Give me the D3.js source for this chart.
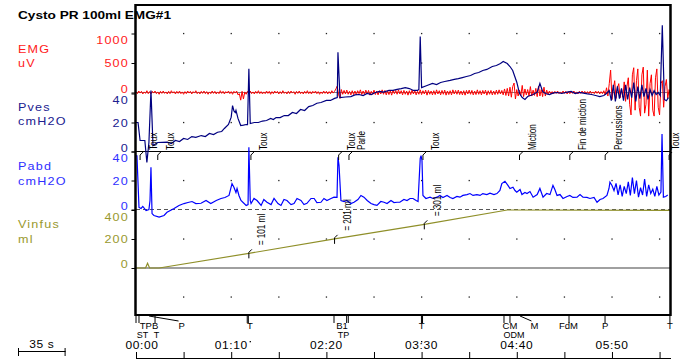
<!DOCTYPE html>
<html>
<head>
<meta charset="utf-8">
<script src="https://cdn.jsdelivr.net/npm/d3@7"></script>
<style>
  body { margin: 0; background: #fff; }
  svg { display: block; font-family: "Liberation Sans", Arial, sans-serif; }
</style>
</head>
<body>
<svg id="chart" width="681" height="363"></svg>
<script>
// ---- data (time in seconds) ----
const emgStep = 1; // seconds between EMG samples
const emgUv = [
  15,-20,25,-10,20,-25,10,-15,30,-20,15,-25,20,-10,25,-20,10,-30,20,-15,
  25,-15,10,-25,20,-20,30,-10,15,-25,20,-15,25,-20,10,-30,15,-20,25,-10,
  20,-25,15,-10,30,-20,10,-25,20,-15,25,-20,15,-30,10,-20,25,-15,20,-25,
  10,-20,30,-15,20,-25,15,-10,25,-20,15,-30,20,-10,25,-40,-20,-130,20,-110,
  10,-30,20,-15,25,-20,10,-25,20,-15,30,-20,15,-25,10,-20,25,-15,20,-30,
  15,-20,25,-10,20,-25,15,-20,30,-15,10,-25,20,-20,25,-10,15,-30,20,-15,
  25,-20,10,-25,20,-15,30,-20,15,-25,20,-10,25,-20,15,-30,10,-20,25,-15,
  20,-25,15,-20,30,-10,20,60,110,-40,-100,50,-30,35,-25,40,-30,20,-40,30,
  -35,25,-40,30,-20,45,-35,25,-30,40,-25,35,-45,20,-30,40,-35,25,-40,30,
  -25,45,-30,35,-40,25,-35,30,-45,40,-20,35,-30,45,-25,30,-40,35,-30,25,
  -45,30,-35,40,-25,35,-40,20,-30,45,-35,30,-25,40,-45,35,-30,25,-40,30,
  -35,45,-25,30,-40,35,-30,40,-45,25,-35,30,-40,45,-25,35,-30,40,-35,25,
  -40,30,-45,35,-25,40,-30,35,-40,25,-35,45,-30,30,-40,35,-25,40,-45,30,
  -30,35,-40,25,-35,40,-30,45,-25,35,-40,60,-50,70,-60,90,-80,100,160,-110,
  50,-60,40,-50,120,-70,60,-40,50,-60,100,-60,40,-50,70,-70,110,-60,50,-70,
  90,-60,40,-30,25,-20,15,-25,20,-15,25,-20,10,-20,25,-15,20,-25,15,-20,
  20,-15,25,-20,10,-25,20,-15,25,-10,20,-25,15,-20,25,-15,10,-20,25,-15,
  20,-25,15,-20,30,-40,80,-60,150,380,-120,60,200,-100,80,150,-90,60,-80,180,
  -150,100,250,-200,-380,300,420,-300,200,400,-250,-400,300,430,-350,-200,380,-400,150,300,
  -300,-400,250,400,-250,-380,150,200,-250,100,220,-100,50,-60
];

const pvesPts = [
  [0,20],[1.5,20],[3,7.6],[6.5,7.6],[8,-7.6],[9.5,6.2],[11,42],[12.5,4.1],[16,6.2],[23,6.4],
  [26,5.5],[29,7.6],[32,6.9],[35,9],[38,8.3],[41,10.3],[44,9.7],[48,11],[51,10.3],[54,12.4],
  [57,11.7],[60,13.3],[63,13.8],[65,15.9],[68,18.6],[70,23.7],[71,31.7],[72,28],[73,26.9],[73.5,28.3],
  [75,22.8],[77,17.9],[79,18.2],[81,18.6],[82,18.6],[83,57],[84,19.3],[87,20],[90,20],[93,21],
  [96,21.4],[99,22.8],[101,22],[103,23.4],[106,23.4],[109,24.8],[112,24.8],[115,26.9],[118,26.2],[121,29],
  [124,28.3],[127,31],[130,31.7],[133,33.3],[136,33.8],[140,35.2],[143,35.2],[146,36.6],[148,37.2],[148.5,68.5],
  [150,37.2],[154,37.6],[158,37.9],[161,39],[164,39.3],[167,38.6],[170,40],[173,39.3],[176,40.7],[179,41.4],
  [182,40.9],[186,42.1],[189,42.1],[192,42.8],[195,43.4],[198,44.1],[201,43.4],[204,42.1],[207,42.1],[208,42.8],
  [209,79.3],[210,44.1],[214,45.5],[218,46.9],[221,46.2],[224,47.6],[227,48.3],[231,49],[234,49.7],[237,50.3],
  [240,51],[243,51.7],[246,52.4],[249,53.8],[252,54.5],[255,55.9],[258,56.6],[262,58.6],[265,59.3],[268,60.7],
  [270,62.1],[273,60.7],[275,58.6],[277,55.9],[280,47.8],[282,40],[284,37.2],[286,35.9],[288,37.9],[290,38.6],
  [292,39.3],[295,40.9],[297,46.9],[299,41.4],[301,40],[304,39.3],[307,40.4],[310,40.7],[313,40],[317,40.9],
  [320,41.4],[323,40],[326,40.7],[329,40.2],[332,39.7],[335,39.3],[338,38.6],[341,37.9],[344,38.6],[346,40],
  [348,42],[349.5,35],[351,46],[352.5,34.5],[354,45],[355.5,36.5],[357,43.5],[358.5,35],[360,46],[361.5,35.9],
  [363,44],[364.5,37.2],[366,47.6],[367.5,34.5],[369,44.8],[370.5,36.5],[372,46],[373.5,37.9],[375,43.5],[376.5,35.9],
  [378,42.8],[379.5,38.6],[381,42],[382.5,39.3],[384,40.7],[385.5,38.6],[387,87],[388.5,35.9],[390,35],[391.5,37.2]
];

const pabdPts = [
  [0,37],[0.7,37],[2.2,1.4],[3.7,0.7],[5,2.1],[7.4,-0.7],[9.5,0],[10.3,6.2],[11,29.2],[11.8,-2.8],
  [13.2,-4.1],[17,-5.3],[20.6,-4.1],[22.8,-1.9],[28,0.7],[31.6,2.8],[35.3,4.1],[38.2,4.8],[41.2,5.5],[44,4.1],
  [47.8,4.3],[51.5,6.2],[55,4.1],[59,6.2],[62.5,7.6],[65.4,8.3],[68.4,9.7],[70.6,17.9],[72,15.4],[73.5,11.7],
  [74.3,14.5],[75.7,9.7],[77.2,6.2],[81,2.8],[82.4,3.4],[83,43],[84,6.2],[84.6,4.1],[86.8,7.6],[89,6.2],
  [92,2.8],[94,6.9],[96.3,5],[99.3,3.4],[101.5,7.6],[104.4,4.1],[106.6,2.8],[108.8,6.9],[111,6.2],[114,3.4],
  [116.2,4.1],[118.4,7.6],[121.3,6.2],[123.5,3.4],[125.7,4.3],[128.7,7.6],[131,7.6],[133,4.8],[136,5],[138.2,7.6],
  [140.4,6.2],[143.4,7.6],[145.6,8.5],[147.8,8.3],[148.5,36],[149.3,30.3],[150.7,6.2],[153,5.5],[155,6.2],[158,4.1],
  [160.3,5],[163.2,6.9],[165.4,9.7],[167.6,8.5],[170,6.2],[172.8,4.1],[175,3.4],[177.2,2.8],[180,5.5],[182.4,5],
  [184.6,4.1],[187.5,6.2],[189.7,4.8],[192,5],[194,5],[197,6.9],[199.3,6.2],[201.5,7.6],[203.7,7.6],[206,6.2],
  [207.4,5.5],[209,35.2],[209.6,37.2],[210.3,33.8],[211,9.7],[213.2,7.6],[216.2,8.5],[218.4,7.6],[221.3,8.5],[223.5,9.7],
  [225.7,8.3],[228.7,9.7],[231,8.3],[233,7.6],[236,9],[238.2,8.5],[240.4,9.7],[243.4,10.3],[245.6,11],[247.8,9.7],
  [250.7,10.3],[253,9.7],[255,11],[258,10.3],[260.3,11.2],[263.2,10.3],[265.4,11],[267.6,13.1],[269,17.9],[271.3,19.5],
  [273.5,16.6],[275,14.5],[277.2,15.4],[278.7,13.1],[280,11.9],[282.4,13.8],[283.8,10.3],[286,11.7],[287.5,11],[289.7,12.4],
  [292,8.5],[295,10.3],[297,14.5],[299.3,8.5],[302,11],[304.4,10.3],[306.6,16.6],[308,13.8],[309.6,9.7],[311.8,10.3],
  [314,7.6],[317,9],[319,9.7],[321.3,8.3],[324.3,8.5],[326.5,10.3],[328.7,8.5],[331.6,8.3],[333.8,7.6],[336.8,8.3],
  [339,5],[341.2,6.9],[343.4,7.6],[346.3,9.7],[347.8,14.5],[348.5,18.8],[350,16.6],[351.5,13],[353,18],[354.5,10],
  [356,17],[357.5,9],[359,16],[360.5,11],[362,19],[363.5,9.7],[365,22],[366.5,11],[368,20],[369.5,8.5],
  [371,15],[372.5,10],[374,21],[375.5,9],[377,17],[378.5,11],[380,14],[381.5,9],[383,16],[384.5,10],
  [386,12],[386.8,52],[387.8,8.5],[389.5,9],[391,10]
];

const vinfusPts = [[0,0],[7,0],[8.5,32],[10,0],[17,0],[83,101],[146,201],[212,301],[273,400],[393,398]];

// comments written on the pressure trace
const markTimes = [3, 16, 84.5, 149, 156.6, 211, 282, 319, 345, 392];
const markTexts = ["Toux","Toux","Toux","Toux","Parle","Toux","Miction","Fin de miction","Percussions","Toux"];
// infused volume readouts
const volMarks = [[83,101],[146,201],[212,301]];

// event strip under the plot
const evtTicks = [0, 2.2, 14, 81.8, 82.6, 145.6, 154.9, 156.1, 209.9, 210.7, 270.6, 275, 318.4, 344.9, 392.6];
const evtRow1 = [["TPB",9.6],["P",33.5],["T",83.8],["B1",151.5],["T",210],["CM",275],["M",293],["FdM",318],["P",345],["T",392.6]];
const evtRow2 = [["ST",4.8],["T",15],["TP",152.6],["ODM",278]];
const evtDots = [84, 210];
const evtLeaders = [[9.6,33.5],[282.4,293]];

const timeTicks = [0,35,70,105,140,175,210,245,280,315,350,385];
const timeLabels = ["00:00","","01:10","","02:20","","03:30","","04:40","","05:50",""];

const emgTicks = [0,500,1000];
const pvesTicks = [0,20,40];
const pabdTicks = [0,20,40];
const vinfusTicks = [0,200,400];

// ---- scales ----
const svg = d3.select("#chart");
const x = d3.scaleLinear().domain([0, 393.4]).range([136, 671]);
const yEmg = d3.scaleLinear().domain([0, 1000]).range([92.5, 33.5]);
const yPves = d3.scaleLinear().domain([0, 40]).range([151.5, 93.5]);
const yPabd = d3.scaleLinear().domain([0, 40]).range([209.5, 151.5]);
const yVin = d3.scaleLinear().domain([0, 400]).range([268, 210]);

function wtext(g, s, px, py, o) {
  return g.append("text")
    .attr("transform", `translate(${px},${py}) scale(${o.sx || 1},1)`)
    .attr("text-anchor", o.anchor || "start")
    .attr("font-size", o.size || 10)
    .attr("font-weight", o.weight || "normal")
    .attr("letter-spacing", o.ls || 0)
    .attr("fill", o.fill || "#000")
    .text(s);
}

// grid dots at each time tick on every scale level
const gridYs = [yEmg(1000), yEmg(500), yPves(20), yPabd(20), yVin(200), yVin(-200)];
const grid = svg.append("g");
timeTicks.slice(1).forEach(t => {
  gridYs.forEach(gy => {
    grid.append("rect").attr("x", x(t) - 0.6).attr("y", gy - 0.6)
      .attr("width", 1.3).attr("height", 1.3).attr("fill", "#222");
  });
});

// reference lines
svg.append("line").attr("x1", 136).attr("x2", 671).attr("y1", yEmg(0)).attr("y2", yEmg(0))
  .attr("stroke", "#808080").attr("stroke-width", 1);
svg.append("line").attr("x1", 136).attr("x2", 671).attr("y1", yPves(0)).attr("y2", yPves(0))
  .attr("stroke", "#000").attr("stroke-width", 1.2);
svg.append("line").attr("x1", 136).attr("x2", 671).attr("y1", yPabd(0)).attr("y2", yPabd(0))
  .attr("stroke", "#555").attr("stroke-width", 1).attr("stroke-dasharray", "4,3");
svg.append("line").attr("x1", 136).attr("x2", 671).attr("y1", yVin(0)).attr("y2", yVin(0))
  .attr("stroke", "#808080").attr("stroke-width", 1.5);

// traces
const line = ys => d3.line().x(d => x(d[0])).y(d => ys(d[1]));
svg.append("path").datum(vinfusPts).attr("d", line(yVin))
  .attr("fill", "none").attr("stroke", "#8f8f29").attr("stroke-width", 1.2);
svg.append("path").datum(pabdPts).attr("d", line(yPabd))
  .attr("fill", "none").attr("stroke", "#0000ff").attr("stroke-width", 1.2);
svg.append("path").datum(emgUv.map((v, i) => [i * emgStep, v])).attr("d", line(yEmg))
  .attr("fill", "none").attr("stroke", "#ff0000").attr("stroke-width", 1);
svg.append("path").datum(pvesPts).attr("d", line(yPves))
  .attr("fill", "none").attr("stroke", "#000080").attr("stroke-width", 1.2);

// comments on Pves
const notes = svg.append("g");
markTimes.forEach((t, i) => {
  const hx = x(t);
  notes.append("path").attr("d", `M${hx},160V155L${hx + 3},152`)
    .attr("fill", "none").attr("stroke", "#000").attr("stroke-width", 1);
  notes.append("text")
    .attr("transform", `translate(${Math.min(hx + 16.5, 679)},150) rotate(-90) scale(0.82,1)`)
    .attr("font-size", 10).attr("fill", "#000")
    .text(markTexts[i]);
});

// infused volume readouts
volMarks.forEach(([t, v]) => {
  const hx = x(t), hy = yVin(v);
  notes.append("path").attr("d", `M${hx},${hy + 5}V${hy - 1}L${hx + 3},${hy - 4}`)
    .attr("fill", "none").attr("stroke", "#000").attr("stroke-width", 1);
  notes.append("text")
    .attr("transform", `translate(${hx + 16.5},${hy - 8}) rotate(-90) scale(0.82,1)`)
    .attr("font-size", 10).attr("fill", "#000")
    .text(`= ${v} ml`);
});

// frame
const frame = svg.append("g").attr("stroke", "#000").attr("fill", "none");
frame.append("line").attr("x1", 135.5).attr("x2", 135.5).attr("y1", 4).attr("y2", 316).attr("stroke-width", 2.5);
frame.append("line").attr("x1", 670.5).attr("x2", 670.5).attr("y1", 4).attr("y2", 316).attr("stroke-width", 2.5);
frame.append("line").attr("x1", 135).attr("x2", 671).attr("y1", 5).attr("y2", 5).attr("stroke-width", 2);
frame.append("line").attr("x1", 135).attr("x2", 671).attr("y1", 315).attr("y2", 315).attr("stroke-width", 2);

// left scales
const panels = [
  { name: "EMG", unit: "uV", color: "#ff1a1a", scale: yEmg, ticks: emgTicks, nameY: 52.5, unitY: 66.5 },
  { name: "Pves", unit: "cmH2O", color: "#202090", scale: yPves, ticks: pvesTicks, nameY: 110.5, unitY: 125 },
  { name: "Pabd", unit: "cmH2O", color: "#3030ff", scale: yPabd, ticks: pabdTicks, nameY: 170, unitY: 184.5 },
  { name: "Vinfus", unit: "ml", color: "#99992e", scale: yVin, ticks: vinfusTicks, nameY: 228, unitY: 242.5 }
];
const lab = svg.append("g");
panels.forEach(p => {
  wtext(lab, p.name, 18, p.nameY, { sx: 1.2, size: 10.5, ls: 1, fill: p.color });
  wtext(lab, p.unit, 18, p.unitY, { sx: 1.2, size: 10.5, ls: 1, fill: p.color });
  const ax = lab.append("g").attr("transform", "translate(135.5,0)")
    .call(d3.axisLeft(p.scale).tickValues(p.ticks).tickSize(4).tickFormat(""));
  ax.select(".domain").remove();
  ax.selectAll("line").attr("stroke", "#000");
  p.ticks.forEach((v, i) => {
    const ty = p.scale(v);
    const dy = i === p.ticks.length - 1 ? 10.5 : (i === 0 ? 0 : 4);
    wtext(lab, v, 129, ty + dy, { sx: 1.2, size: 10.5, ls: 1, anchor: "end", fill: p.color });
  });
});

// title
wtext(svg, "Cysto PR 100ml EMG#1", 18, 19, { sx: 1.3, size: 10.5, weight: "bold" });

// event strip
const ev = svg.append("g");
evtTicks.forEach(t => {
  ev.append("line").attr("x1", x(t)).attr("x2", x(t)).attr("y1", 316).attr("y2", 323)
    .attr("stroke", "#000").attr("stroke-width", 1);
});
evtLeaders.forEach(([t0, t1]) => {
  ev.append("line").attr("x1", x(t0)).attr("y1", 316).attr("x2", x(t1) - 3).attr("y2", 321)
    .attr("stroke", "#000").attr("stroke-width", 1);
});
evtRow1.forEach(([s, t]) => wtext(ev, s, x(t), 329, { size: 9.5, anchor: "middle" }));
evtRow2.forEach(([s, t]) => wtext(ev, s, x(t), 338, { size: 9, anchor: "middle" }));
evtDots.forEach(t => {
  ev.append("rect").attr("x", x(t) - 0.6).attr("y", 341).attr("width", 1.3).attr("height", 1.3).attr("fill", "#000");
});

// time axis
const tax = svg.append("g").attr("transform", "translate(0,358)")
  .call(d3.axisTop(x).tickValues(timeTicks).tickSize(6).tickFormat(""));
tax.select(".domain").remove();
tax.selectAll("line").attr("stroke", "#000");
svg.append("line").attr("x1", 136).attr("x2", 671).attr("y1", 358.5).attr("y2", 358.5)
  .attr("stroke", "#000").attr("stroke-width", 1);
timeTicks.forEach((t, i) => {
  if (timeLabels[i]) wtext(svg, timeLabels[i], x(t) + (i === 0 ? 6 : 0), 349, { sx: 1.2, size: 10, ls: 0.5, anchor: "middle" });
});

// 35 s scale bar
const barW = x(35) - x(0);
const bar = svg.append("g").attr("stroke", "#000").attr("stroke-width", 1);
bar.append("line").attr("x1", 18).attr("x2", 18 + barW).attr("y1", 351.5).attr("y2", 351.5);
bar.append("line").attr("x1", 18.5).attr("x2", 18.5).attr("y1", 348).attr("y2", 356);
bar.append("line").attr("x1", 17.5 + barW).attr("x2", 17.5 + barW).attr("y1", 348).attr("y2", 356);
wtext(svg, "35 s", 18 + barW / 2, 348, { sx: 1.2, size: 10, ls: 0.5, anchor: "middle" });
</script>
</body>
</html>
